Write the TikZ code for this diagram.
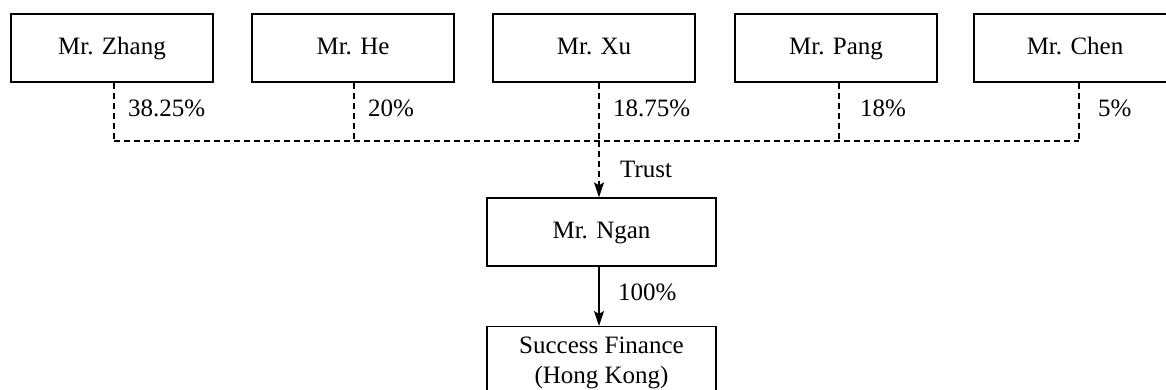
\documentclass[tikz,border=0pt]{standalone}
\usepackage{fontspec}
\setmainfont{Liberation Serif}
\usetikzlibrary{arrows.meta}
\begin{document}
\begin{tikzpicture}[x=1pt,y=-1pt,
  font=\fontsize{25}{30}\selectfont,
  box/.style={draw,line width=1.3pt,minimum width=202pt,minimum height=68pt,inner sep=0pt,align=center,text height=17pt,text depth=5pt},
  dashline/.style={line width=1.3pt,dash pattern=on 6pt off 4pt},
  solidline/.style={line width=1.3pt},
  tip/.style={-{Stealth[length=15pt,width=10pt,inset=3pt]}},
  lbl/.style={anchor=west,inner sep=0pt,text height=17pt,text depth=5pt}]
\useasboundingbox (0,0) rectangle (1166,389);
\clip (0,0) rectangle (1166,389);
\node[box] (zhang) at (112,48) {Mr. Zhang};
\node[box] (he) at (353,48) {Mr. He};
\node[box] (xu) at (594,48) {Mr. Xu};
\node[box] (pang) at (836,48) {Mr. Pang};
\node[box] (chen) at (1075,48) {Mr. Chen};
\node[box,minimum width=229pt] (ngan) at (601.5,232) {Mr. Ngan};
\node[draw,line width=1.3pt,minimum width=229pt,minimum height=80pt,anchor=north] (sf) at (601.5,326) {};
\node[inner sep=0pt,align=center] (sft) at (601.5,363) {Success Finance\\(Hong Kong)};
\coordinate (j1) at (114,141);
\coordinate (j2) at (354,141);
\coordinate (j3) at (599,141);
\coordinate (j4) at (839,141);
\coordinate (j5) at (1079,141);
\draw[dashline] (zhang.south -| j1) -- (j1);
\draw[dashline] (he.south -| j2) -- (j2);
\draw[dashline] (xu.south -| j3) -- (j3);
\draw[dashline] (pang.south -| j4) -- (j4);
\draw[dashline] (chen.south -| j5) -- (j5);
\draw[dashline] (j1) -- (j5);
\draw[dashline,tip] (j3) -- (ngan.north -| j3);
\draw[solidline,tip] (ngan.south -| j3) -- (sf.north -| j3);
\node[lbl] (l1) at (128,110) {38.25\%};
\node[lbl] (l2) at (368,110) {20\%};
\node[lbl] (l3) at (613,110) {18.75\%};
\node[lbl] (l4) at (860,110) {18\%};
\node[lbl] (l5) at (1098,110) {5\%};
\node[lbl] (lt) at (620,171) {Trust};
\node[lbl] (lh) at (618,294) {100\%};
\end{tikzpicture}
\end{document}
